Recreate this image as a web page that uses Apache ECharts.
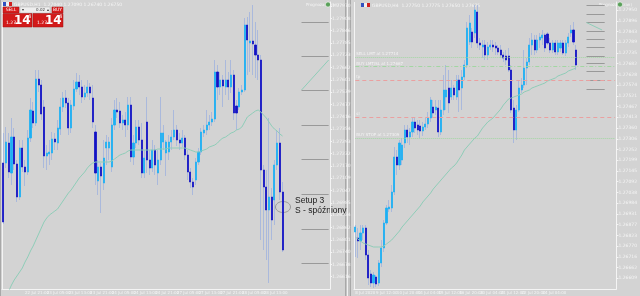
<!DOCTYPE html>
<html><head><meta charset="utf-8">
<script src="https://cdn.jsdelivr.net/npm/echarts@6/dist/echarts.min.js"></script>
<style>html,body{margin:0;padding:0;background:#d3d3d3;}#c{width:640px;height:296px;}</style>
</head><body><div id="c"></div><script>
// ---------- LEFT CHART (H1) : [open, close, low, high] ----------
const leftCandles = [
[1.27185,1.2689,1.2688,1.27335],[1.27185,1.2729,1.2716,1.27365],[1.27285,1.2714,1.2711,1.27335],[1.27135,1.27315,1.27075,1.2741],
[1.27315,1.2718,1.2715,1.2736],[1.2718,1.27015,1.2699,1.272],[1.27015,1.2726,1.27,1.273],[1.2726,1.27165,1.2714,1.273],
[1.27165,1.2714,1.2707,1.272],[1.2714,1.2731,1.27125,1.2735],[1.2731,1.2745,1.2729,1.2751],[1.27445,1.27385,1.2736,1.2749],
[1.27385,1.27605,1.2737,1.2765],[1.27605,1.27575,1.2754,1.2765],[1.27575,1.2743,1.274,1.276],[1.27465,1.2722,1.2716,1.275],
[1.2722,1.27235,1.2715,1.27275],[1.2723,1.2724,1.27175,1.273],[1.27235,1.27305,1.272,1.2734],[1.27305,1.2729,1.2725,1.27335],
[1.27285,1.2736,1.2725,1.274],[1.27355,1.27465,1.27325,1.2751],[1.27465,1.2751,1.2744,1.2754],[1.2751,1.27485,1.2746,1.2755],
[1.27485,1.2736,1.27325,1.2751],[1.2736,1.27475,1.27335,1.275],[1.2747,1.27555,1.2745,1.276],[1.27555,1.2759,1.2754,1.27635],
[1.2759,1.27565,1.27525,1.27625],[1.27565,1.27515,1.27485,1.276],[1.27515,1.27535,1.275,1.27575],[1.27535,1.27565,1.27515,1.276],
[1.27565,1.27535,1.275,1.27585],[1.2751,1.2739,1.2736,1.27575],[1.2734,1.27135,1.27075,1.27375],[1.27095,1.27165,1.27025,1.272],
[1.27165,1.2712,1.26935,1.27185],[1.27085,1.2721,1.2705,1.273],[1.2726,1.2729,1.27175,1.27325],[1.2726,1.2729,1.272,1.27315],
[1.27165,1.27375,1.2714,1.2741],[1.27375,1.2745,1.2735,1.275],[1.2745,1.2744,1.2741,1.2751],[1.27445,1.27385,1.2736,1.2749],
[1.27385,1.274,1.2735,1.27425],[1.274,1.27375,1.27315,1.2744],[1.27375,1.27475,1.2735,1.27515],[1.27475,1.27215,1.2719,1.27515],
[1.27215,1.27285,1.27175,1.27325],[1.27285,1.27365,1.2726,1.274],[1.27365,1.273,1.27275,1.274],[1.273,1.27135,1.2711,1.27385],
[1.27135,1.2721,1.2711,1.2725],[1.2739,1.272,1.27135,1.27515],[1.272,1.2716,1.27125,1.2725],[1.2716,1.2725,1.2714,1.273],
[1.2725,1.27175,1.27125,1.27275],[1.27135,1.272,1.27075,1.2725],[1.272,1.27335,1.27175,1.27515],[1.2729,1.27335,1.2725,1.27375],
[1.27235,1.2729,1.2712,1.273],[1.2724,1.2729,1.272,1.27325],[1.2729,1.27315,1.2725,1.2735],[1.27315,1.2735,1.273,1.2745],
[1.2735,1.273,1.2727,1.27375],[1.273,1.27285,1.2725,1.27335],[1.27285,1.2731,1.27265,1.2735],[1.2731,1.27225,1.272,1.27325],
[1.27225,1.2714,1.271,1.2725],[1.2714,1.2709,1.2706,1.2716],[1.2709,1.27065,1.27025,1.2711],[1.271,1.2719,1.27075,1.2721],
[1.2719,1.2724,1.27175,1.2726],[1.2724,1.2734,1.27225,1.2736],[1.27335,1.2735,1.27315,1.27375],[1.2735,1.27375,1.27325,1.2745],
[1.27375,1.2739,1.2735,1.27425],[1.2739,1.27405,1.2737,1.2744],[1.27405,1.2764,1.2739,1.277],[1.2764,1.27565,1.275,1.27675],
[1.27565,1.276,1.27525,1.2764],[1.276,1.2757,1.27465,1.27625],[1.27565,1.276,1.27525,1.277],[1.276,1.27565,1.275,1.2764],
[1.27565,1.27625,1.27535,1.277],[1.27625,1.27435,1.274,1.2765],[1.2747,1.27435,1.2735,1.275],[1.27465,1.2754,1.2745,1.2756],
[1.2754,1.2755,1.27525,1.27575],[1.2755,1.27875,1.2754,1.2791],[1.27875,1.278,1.27625,1.27915],[1.27785,1.27795,1.2764,1.2794],
[1.27795,1.2778,1.27625,1.27975],[1.27775,1.27725,1.2761,1.2789],[1.27725,1.277,1.276,1.2785],[1.277,1.2715,1.268,1.27725],
[1.2715,1.27065,1.2675,1.27175],[1.27065,1.2695,1.267,1.2715],[1.2695,1.27015,1.26585,1.2741],[1.27015,1.269,1.268,1.2706],
[1.27,1.27175,1.26875,1.272],[1.27175,1.27285,1.2715,1.2735],[1.27285,1.2704,1.27,1.2736],[1.2704,1.2675,1.2674,1.2709]
];
const leftMA = [
1.26485,1.2651,1.26545,1.26575,1.266,1.2662,1.2664,1.2666,1.2669,1.26715,1.26745,1.2677,1.268,1.2683,1.2686,1.2689,
1.2691,1.26925,1.26935,1.26945,1.26955,1.26975,1.26995,1.27015,1.27035,1.2705,1.2707,1.2709,1.2711,1.27125,1.2714,1.2716,
1.27175,1.27185,1.2719,1.2719,1.2719,1.2719,1.2719,1.2719,1.27195,1.27205,1.27215,1.27225,1.2723,1.27235,1.27245,1.2725,
1.2725,1.2725,1.2725,1.2725,1.2725,1.2725,1.2725,1.2725,1.2725,1.27255,1.27255,1.27255,1.27255,1.2726,1.2726,1.2726,
1.2726,1.2726,1.2726,1.2726,1.27255,1.2725,1.27245,1.2724,1.2724,1.27245,1.2725,1.27255,1.27265,1.2727,1.27275,1.27285,
1.273,1.2731,1.27315,1.27325,1.27335,1.2734,1.2735,1.27355,1.27365,1.2739,1.27415,1.27425,1.27435,1.27445,1.2745,1.2744,
1.27425,1.2741,1.2739,1.2737,1.27355,1.27345,1.2733,1.2732
];
const leftDates = ['22 Jul 2020','22 Jul 21:00','23 Jul 05:00','23 Jul 13:00','23 Jul 21:00','24 Jul 05:00','24 Jul 13:00',
  '24 Jul 21:00','27 Jul 05:00','27 Jul 13:00','27 Jul 21:00','28 Jul 05:00','28 Jul 13:00','28 Jul 21:00'];
const leftLevels = [1.27887,1.27717,1.2755,1.27374,1.27205,1.2703,1.26855,1.26685];
const leftDiag = [1.2755,1.277];

// ---------- RIGHT CHART : [open, close, low, high] ----------
const rightCandles = [
[1.2684,1.26865,1.26715,1.26875],[1.2681,1.26795,1.2671,1.2686],[1.26795,1.26835,1.2675,1.26875],[1.26835,1.2686,1.268,1.26875],
[1.2686,1.26725,1.267,1.26875],[1.26725,1.2661,1.26575,1.2675],[1.2663,1.26585,1.26565,1.2665],[1.26585,1.26625,1.2656,1.2664],
[1.26615,1.2658,1.26565,1.26625],[1.26585,1.26685,1.2657,1.267],[1.26685,1.2676,1.26665,1.268],[1.2676,1.26885,1.2674,1.269],
[1.26885,1.2696,1.26875,1.26975],[1.26955,1.26965,1.2694,1.27],[1.2696,1.2704,1.2694,1.27075],[1.2704,1.27215,1.27025,1.27265],
[1.27215,1.27175,1.27125,1.2725],[1.27175,1.27285,1.2715,1.273],[1.272,1.27275,1.27175,1.2731],[1.27285,1.2735,1.2726,1.27375],
[1.2735,1.27315,1.27285,1.27375],[1.27315,1.2734,1.27275,1.2736],[1.2734,1.2739,1.27315,1.2741],[1.2739,1.2736,1.27335,1.2741],
[1.27375,1.2735,1.27325,1.274],[1.2737,1.27345,1.2731,1.274],[1.27345,1.27365,1.2732,1.2739],[1.27365,1.2738,1.2735,1.2741],
[1.2738,1.2741,1.2736,1.2744],[1.2741,1.275,1.2739,1.27515],[1.27465,1.27435,1.2741,1.275],[1.2745,1.27465,1.27425,1.275],
[1.2746,1.2734,1.27315,1.275],[1.2734,1.2745,1.27325,1.275],[1.2745,1.2755,1.27425,1.27625],[1.27515,1.2755,1.2745,1.27675],
[1.2756,1.27485,1.27435,1.2765],[1.27515,1.2756,1.275,1.276],[1.2756,1.27525,1.275,1.27575],[1.27515,1.276,1.275,1.27625],
[1.276,1.2755,1.2744,1.27625],[1.2756,1.27615,1.2745,1.2765],[1.27615,1.27675,1.276,1.277],[1.27675,1.2786,1.2766,1.2789],
[1.2779,1.27885,1.27775,1.27925],[1.2784,1.2779,1.2776,1.2786],[1.27835,1.2795,1.2781,1.27975],[1.2794,1.27785,1.2776,1.27975],
[1.27785,1.27775,1.2775,1.2781],[1.27765,1.27775,1.2771,1.278],[1.27775,1.27725,1.277,1.278],[1.27725,1.27765,1.277,1.2779],
[1.27765,1.27775,1.2775,1.278],[1.27775,1.27765,1.2774,1.278],[1.2777,1.2776,1.27725,1.2779],[1.2776,1.2774,1.27725,1.27775],
[1.2775,1.27725,1.2771,1.27775],[1.27725,1.2771,1.2769,1.2774],[1.2772,1.277,1.27675,1.2775],[1.2772,1.2765,1.2764,1.2776],
[1.2765,1.2745,1.27435,1.27675],[1.2746,1.2735,1.27285,1.275],[1.2735,1.2745,1.273,1.27475],[1.2745,1.2756,1.2744,1.276],
[1.2755,1.27575,1.27535,1.2761],[1.27575,1.2766,1.2756,1.2775],[1.2766,1.2769,1.27575,1.2771],[1.2769,1.27775,1.27675,1.2781],
[1.27775,1.278,1.27725,1.27835],[1.278,1.2775,1.27725,1.27825],[1.2775,1.278,1.27735,1.27825],[1.278,1.27815,1.2776,1.27835],
[1.2781,1.27825,1.27775,1.2785],[1.27825,1.2776,1.2774,1.27835],[1.2783,1.27785,1.27775,1.2784],[1.27785,1.2775,1.27735,1.2781],
[1.2775,1.27785,1.27735,1.278],[1.27785,1.2774,1.27725,1.278],[1.2774,1.27785,1.27725,1.278],[1.2776,1.27785,1.2774,1.278],
[1.27785,1.27735,1.27725,1.278],[1.27735,1.27785,1.2772,1.278],[1.27785,1.27815,1.27765,1.27835],[1.27835,1.2785,1.27815,1.27875],
[1.2785,1.2779,1.27775,1.2789],[1.2775,1.27675,1.2765,1.27775]
];
const rightMA = [
1.26815,1.26805,1.26795,1.26785,1.2678,1.26775,1.2677,1.26765,1.26765,1.26765,1.26765,1.2677,1.2678,1.2679,1.268,1.26815,
1.2683,1.26845,1.26865,1.2688,1.26895,1.2691,1.26925,1.2694,1.26955,1.2697,1.2699,1.27005,1.2702,1.27035,1.27055,1.2707,
1.27085,1.271,1.27115,1.2713,1.27145,1.2716,1.2717,1.27185,1.27205,1.27225,1.2725,1.27265,1.2728,1.27295,1.2731,1.2732,
1.2734,1.2736,1.27375,1.2739,1.274,1.2741,1.27425,1.2744,1.27455,1.27475,1.2749,1.27505,1.2751,1.27515,1.2752,1.27525,
1.2753,1.2754,1.27545,1.2755,1.2756,1.27565,1.2757,1.27575,1.2758,1.27585,1.27595,1.276,1.27605,1.2761,1.2762,1.27625,
1.2763,1.27635,1.27645,1.2765,1.27655,1.2766
];
const rightDates = ['8 Jul 2020','9 Jul 12:00','10 Jul 20:00','14 Jul 04:00','15 Jul 12:00','16 Jul 20:00','20 Jul 04:00',
  '21 Jul 12:00','22 Jul 20:00','24 Jul 04:00','27 Jul 12:00'];
const rightLevels = [1.27975,1.2793,1.27887,1.27842,1.27805,1.27765,1.2772,1.27685,1.27642,1.276,1.27555];
const rightDiag = [1.27887,1.2785];
const orderLevels = [1.27714,1.27667,1.276,1.27414,1.27309];
const orderLabels = ['SELL LMT at 1.27714','BUY LMT/SL at 1.27667','tp','sl','BUY STOP at 1.27309'];

// ---------- rendering ----------
const BG = '#d3d3d3', FG = '#f4f4f4';
const WICK = '#aab9dc', BULL = '#1cb0f4', BEAR = '#1212c4', MA = '#8fcdb8';
const leftCats = Array.from({length: 121}, (_, i) => String(i));
const rightCats = Array.from({length: 101}, (_, i) => String(i));
const bodies = a => a.map(d => [d[0], d[1], Math.min(d[0], d[1]), Math.max(d[0], d[1])]);

function xAxisOf(grid, cats, dates) {
  return {
    type: 'category', gridIndex: grid, data: cats, boundaryGap: true,
    axisLine: {lineStyle: {color: FG, width: 1}}, axisTick: {show: false},
    axisLabel: {
      interval: (i) => i % 8 === 0 && i / 8 < dates.length,
      formatter: (v, i) => dates[i / 8] || '',
      fontSize: 4, color: FG, align: 'left', margin: 2, fontFamily: 'DejaVu Sans'
    },
    splitLine: {show: false}
  };
}
function yAxisOf(grid, interval) {
  return {
    type: 'value', gridIndex: grid, position: 'right', min: 1.26555, max: 1.2799, interval: interval,
    axisLine: {show: true, lineStyle: {color: FG}}, axisTick: {show: true, length: 2, lineStyle: {color: FG}},
    axisLabel: {fontSize: 4.5, color: FG, margin: 2, showMinLabel: false, showMaxLabel: false,
      fontFamily: 'DejaVu Sans', formatter: v => v.toFixed(5)},
    splitLine: {show: false}
  };
}
function candleSeries(xi, data) {
  return [
    {type: 'candlestick', xAxisIndex: xi, yAxisIndex: xi, data: data, barWidth: 1, silent: true,
     itemStyle: {color: WICK, color0: WICK, borderColor: WICK, borderColor0: WICK, borderWidth: 1}},
    {type: 'candlestick', xAxisIndex: xi, yAxisIndex: xi, data: bodies(data), barWidth: 1.6, silent: true,
     itemStyle: {color: BULL, color0: BEAR, borderColor: BULL, borderColor0: BEAR, borderWidth: 0.8}}
  ];
}
function segs(levels, c1, c2) {
  return levels.map(p => [{coord: [c1, p]}, {coord: [c2, p]}]);
}

const orderStyles = [
  {color: '#a2d6a2', type: 'dotted', width: 1}, {color: '#a2d6a2', type: [4, 2, 1, 2], width: 1},
  {color: '#eaa0a0', type: [4, 3], width: 1}, {color: '#eaa0a0', type: [4, 3], width: 1}, {color: '#a2d6a2', type: 'dotted', width: 1}
];

const option = {
  backgroundColor: BG, animation: false,
  grid: [
    {left: 2, top: 2, width: 328, height: 287},
    {left: 354, top: 2, width: 269, height: 287}
  ],
  xAxis: [xAxisOf(0, leftCats, leftDates), xAxisOf(1, rightCats, rightDates)],
  yAxis: [yAxisOf(0, 0.000615), yAxisOf(1, 0.0005365)],
  series: [
    ...candleSeries(0, leftCandles),
    {type: 'line', xAxisIndex: 0, yAxisIndex: 0, data: leftMA, showSymbol: false, silent: true,
     lineStyle: {color: MA, width: 1},
     markLine: {silent: true, symbol: 'none', label: {show: false},
       lineStyle: {color: '#999999', type: 'solid', width: 1},
       data: [...segs(leftLevels, '110', '120'),
              [{coord: ['110', leftDiag[0]], lineStyle: {color: MA}}, {coord: ['120', leftDiag[1]]}]]}},
    ...candleSeries(1, rightCandles),
    {type: 'line', xAxisIndex: 1, yAxisIndex: 1, data: rightMA, showSymbol: false, silent: true,
     lineStyle: {color: MA, width: 1},
     markLine: {silent: true, symbol: 'none', label: {show: false},
       lineStyle: {color: '#999999', type: 'solid', width: 1},
       data: [...segs(rightLevels, '89', '96'),
              [{coord: ['89', rightDiag[0]], lineStyle: {color: MA}}, {coord: ['95', rightDiag[1]]}]]}},
    {type: 'line', xAxisIndex: 1, yAxisIndex: 1, data: [], silent: true,
     markLine: {silent: true, symbol: 'none',
       data: orderLevels.map((p, i) => [
         {coord: ['0', p], lineStyle: orderStyles[i],
          label: {show: true, position: 'insideStartTop', formatter: orderLabels[i], fontSize: 4,
                  color: FG, distance: [1, 1], fontFamily: 'DejaVu Sans'}},
         {coord: ['100', p]}])}}
  ],
  graphic: [
    // window frames / divider
    {type: 'rect', shape: {x: 345, y: 0, width: 5, height: 296}, style: {fill: '#c4c4c4'}},
    {type: 'line', shape: {x1: 345.5, y1: 0, x2: 345.5, y2: 296}, style: {stroke: '#a8a8a8', lineWidth: 1}},
    {type: 'line', shape: {x1: 347.5, y1: 0, x2: 347.5, y2: 296}, style: {stroke: '#f0f0f0', lineWidth: 1}},
    {type: 'line', shape: {x1: 350.5, y1: 0, x2: 350.5, y2: 296}, style: {stroke: '#a8a8a8', lineWidth: 1}},
    {type: 'line', shape: {x1: 0.5, y1: 0, x2: 0.5, y2: 296}, style: {stroke: '#a8a8a8', lineWidth: 1}},
    {type: 'line', shape: {x1: 2.5, y1: 2, x2: 2.5, y2: 289}, style: {stroke: FG, lineWidth: 1}},
    {type: 'line', shape: {x1: 354.5, y1: 2, x2: 354.5, y2: 289}, style: {stroke: FG, lineWidth: 1}},
    // titles
    {type: 'rect', shape: {x: 3, y: 2, width: 3, height: 4}, style: {fill: '#3050c0'}},
    {type: 'rect', shape: {x: 6, y: 2, width: 3, height: 4}, style: {fill: '#f0f0f0'}},
    {type: 'rect', shape: {x: 9, y: 2, width: 3, height: 4}, style: {fill: '#d02020'}},
    {type: 'text', x: 14, y: 2, style: {text: 'GBPUSD,H1  1.27040 1.27090 1.26740 1.26750', fontSize: 4.5, fill: FG, fontFamily: 'DejaVu Sans'}},
    {type: 'rect', shape: {x: 361, y: 3, width: 3, height: 4}, style: {fill: '#3050c0'}},
    {type: 'rect', shape: {x: 364, y: 3, width: 3, height: 4}, style: {fill: '#f0f0f0'}},
    {type: 'rect', shape: {x: 367, y: 3, width: 3, height: 4}, style: {fill: '#d02020'}},
    {type: 'text', x: 372, y: 3, style: {text: 'GBPUSD,H4  1.27750 1.27775 1.27650 1.27675', fontSize: 4.5, fill: FG, fontFamily: 'DejaVu Sans'}},
    // top-right labels
    {type: 'text', x: 306, y: 2.5, style: {text: 'Prognoza(ekran)', fontSize: 4, fill: FG, fontFamily: 'DejaVu Sans'}},
    {type: 'circle', shape: {cx: 328, cy: 4.5, r: 2.5}, style: {fill: '#5aa05a', stroke: '#ffffff', lineWidth: 0.5}},
    {type: 'text', x: 599, y: 2.5, style: {text: 'Prognoza(ekran)', fontSize: 4, fill: FG, fontFamily: 'DejaVu Sans'}},
    {type: 'circle', shape: {cx: 620, cy: 4.5, r: 2.5}, style: {fill: '#5aa05a', stroke: '#ffffff', lineWidth: 0.5}},
    // one-click trading panel
    {type: 'rect', shape: {x: 3, y: 7, width: 16, height: 6}, style: {fill: '#d81c1c', stroke: '#a01010', lineWidth: 0.5}},
    {type: 'text', x: 11, y: 10, style: {text: 'SELL', fontSize: 4.5, fill: '#ffffff', align: 'center', verticalAlign: 'middle', fontFamily: 'DejaVu Sans'}},
    {type: 'rect', shape: {x: 20, y: 7, width: 30, height: 6}, style: {fill: '#eeeeee', stroke: '#b0b0b0', lineWidth: 0.5}},
    {type: 'text', x: 22, y: 10, style: {text: '▾', fontSize: 4, fill: '#333', verticalAlign: 'middle'}},
    {type: 'text', x: 45, y: 10, style: {text: '0.02', fontSize: 4, fill: '#333', align: 'right', verticalAlign: 'middle', fontFamily: 'DejaVu Sans'}},
    {type: 'text', x: 47, y: 10, style: {text: '▴', fontSize: 4, fill: '#333', verticalAlign: 'middle'}},
    {type: 'rect', shape: {x: 52, y: 7, width: 11, height: 6}, style: {fill: '#d81c1c', stroke: '#a01010', lineWidth: 0.5}},
    {type: 'text', x: 57.5, y: 10, style: {text: 'BUY', fontSize: 4.5, fill: '#ffffff', align: 'center', verticalAlign: 'middle', fontFamily: 'DejaVu Sans'}},
    {type: 'rect', shape: {x: 3, y: 13.5, width: 29, height: 13.5}, style: {fill: '#d21a1a', stroke: '#a01010', lineWidth: 0.5}},
    {type: 'rect', shape: {x: 33, y: 13.5, width: 30, height: 13.5}, style: {fill: '#d21a1a', stroke: '#a01010', lineWidth: 0.5}},
    {type: 'text', x: 6, y: 20, style: {text: '1.27', fontSize: 4.5, fill: '#ffffff', fontFamily: 'DejaVu Sans'}},
    {type: 'text', x: 14, y: 14.5, style: {text: '14', fontSize: 12, fontWeight: 'bold', fill: '#ffffff', fontFamily: 'DejaVu Sans'}},
    {type: 'text', x: 28, y: 14.5, style: {text: '4', fontSize: 5, fill: '#ffffff', fontFamily: 'DejaVu Sans'}},
    {type: 'text', x: 37, y: 20, style: {text: '1.27', fontSize: 4.5, fill: '#ffffff', fontFamily: 'DejaVu Sans'}},
    {type: 'text', x: 45, y: 14.5, style: {text: '14', fontSize: 12, fontWeight: 'bold', fill: '#ffffff', fontFamily: 'DejaVu Sans'}},
    {type: 'text', x: 59, y: 14.5, style: {text: '4', fontSize: 5, fill: '#ffffff', fontFamily: 'DejaVu Sans'}},
    // annotation
    {type: 'ellipse', shape: {cx: 283, cy: 207, rx: 7.5, ry: 5.5}, style: {fill: 'none', stroke: '#8a8a8a', lineWidth: 0.8}},
    {type: 'text', x: 295, y: 196, style: {text: 'Setup 3', fontSize: 8.5, fill: '#1a1a1a', fontFamily: 'Liberation Sans'}},
    {type: 'text', x: 295, y: 206, style: {text: 'S - spóźniony', fontSize: 8.5, fill: '#1a1a1a', fontFamily: 'Liberation Sans'}}
  ]
};
const chart = echarts.init(document.getElementById('c'), null, {renderer: 'canvas'});
chart.setOption(option);
</script></body></html>
